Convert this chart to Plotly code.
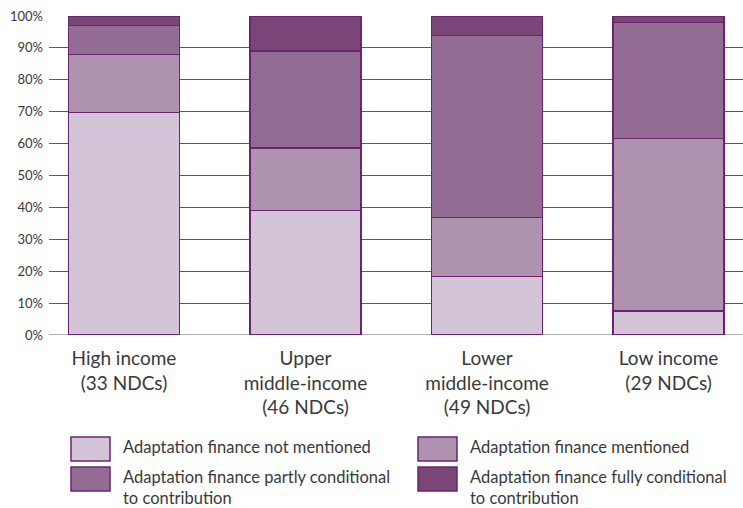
import plotly.graph_objects as go

categories = ["High income<br>(33 NDCs)", "Upper<br>middle-income<br>(46 NDCs)",
              "Lower<br>middle-income<br>(49 NDCs)", "Low income<br>(29 NDCs)"]
series_names = ["Adaptation finance not mentioned", "Adaptation finance mentioned",
                "Adaptation finance partly conditional<br>to contribution",
                "Adaptation finance fully conditional<br>to contribution"]
not_mentioned = [69.7, 39.1, 18.4, 7.6]
mentioned = [18.2, 19.6, 18.4, 54.0]
partly_conditional = [9.1, 30.4, 57.1, 36.4]
fully_conditional = [3.0, 10.9, 6.1, 2.0]
y_ticks = [0, 10, 20, 30, 40, 50, 60, 70, 80, 90, 100]
y_tick_labels = [f"{v}%" for v in y_ticks]

colors = ["#D3C4D8", "#AF92AF", "#926C92", "#7A4678"]
edge = "#6B2470"
font_family = "Lato, 'Open Sans', sans-serif"
text_color = "#3a3a3a"

fig = go.Figure()
for name, vals, col in zip(series_names,
                           [not_mentioned, mentioned, partly_conditional, fully_conditional],
                           colors):
    fig.add_trace(go.Bar(x=list(range(len(categories))), y=vals, name=name,
                         marker=dict(color=col, line=dict(color=edge, width=1.5)),
                         width=0.61, showlegend=False, hoverinfo="skip"))

W, H = 743, 508
ML, MT, MB = 49, 16, 173
fig.update_layout(
    barmode="stack",
    width=W, height=H,
    margin=dict(l=ML, r=0, t=MT, b=MB, autoexpand=False),
    plot_bgcolor="white", paper_bgcolor="white",
    font=dict(family=font_family, color=text_color),
    xaxis=dict(tickmode="array", tickvals=list(range(len(categories))), ticktext=categories,
               range=[-0.413, 3.41], showgrid=False, zeroline=False, showline=False,
               tickfont=dict(size=19, color=text_color), ticks="",
               ticklabelstandoff=10),
    yaxis=dict(range=[0, 100], tickmode="array", tickvals=y_ticks, ticktext=y_tick_labels,
               showgrid=True, gridcolor="#5a5a5a", gridwidth=1,
               zeroline=False, showline=False, ticks="",
               ticklabelstandoff=5,
               tickfont=dict(size=13, color=text_color)),
)
# baseline
fig.add_shape(type="line", xref="paper", yref="y", x0=0, x1=1, y0=0, y1=0,
              line=dict(color="#b0b0b0", width=2), layer="below")

# manual legend
plot_w = W - ML
plot_h = H - MT - MB
bottom_px = H - MB
legend_pos = [(71, 437), (418, 437), (71, 467), (418, 467)]
for (px, py), name, col in zip(legend_pos, series_names, colors):
    fx0 = (px - ML) / plot_w
    fx1 = (px + 39 - ML) / plot_w
    fy1 = (bottom_px - py) / plot_h
    fy0 = (bottom_px - py - 24) / plot_h
    fig.add_shape(type="rect", xref="paper", yref="paper", x0=fx0, x1=fx1, y0=fy0, y1=fy1,
                  fillcolor=col, line=dict(color=edge, width=1.5))
    fig.add_annotation(xref="paper", yref="paper", x=(px + 50 - ML) / plot_w,
                       y=(bottom_px - py + 2) / plot_h, text=name, showarrow=False,
                       xanchor="left", yanchor="top", align="left",
                       font=dict(size=16.5, color=text_color, family=font_family))

fig.write_html("out.html", config={"displayModeBar": False},
               post_script="document.body.style.margin='0';document.body.style.padding='0';")
